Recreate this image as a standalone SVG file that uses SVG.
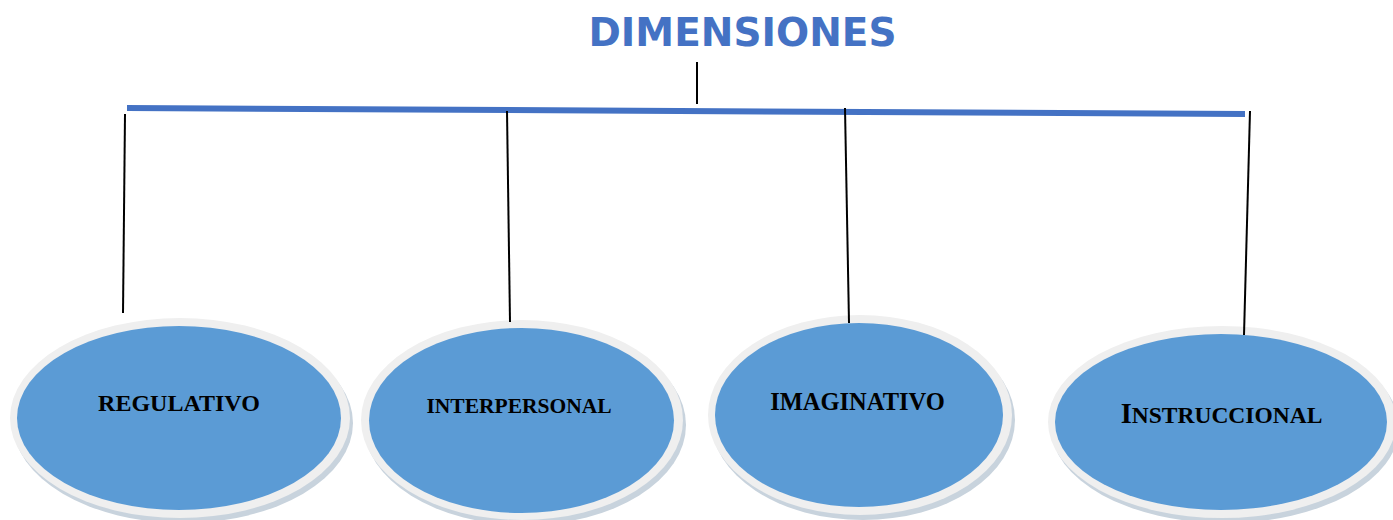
<svg xmlns="http://www.w3.org/2000/svg" width="1393" height="520" viewBox="0 0 1393 520">
  <style>
    .shadow { fill: #c8d3dd; }
    .rim { fill: #efefef; }
    .core { fill: #5b9bd5; }
    .lbl { font-family: "Liberation Serif", "Times New Roman", serif; font-weight: bold; fill: #000; text-anchor: middle; }
    .title { font-family: "DejaVu Sans", sans-serif; font-weight: bold; fill: #4472c4; text-anchor: middle; font-size: 39px; }
    .conn { stroke: #000; stroke-width: 2; fill: none; }
    .bar { stroke: #4472c4; stroke-width: 6; fill: none; }
  </style>
  <rect width="1393" height="520" fill="#ffffff"/>

  <g id="title">
    <text class="title" x="742.5" y="46">DIMENSIONES</text>
  </g>

  <g id="node-regulativo">
    <ellipse class="shadow" cx="183" cy="423" rx="170" ry="100"/>
    <ellipse class="rim" cx="180" cy="418" rx="170" ry="100"/>
    <ellipse class="core" cx="179" cy="418" rx="162" ry="92"/>
    <text class="lbl" x="179" y="411" font-size="24">REGULATIVO</text>
  </g>

  <g id="node-interpersonal">
    <ellipse class="shadow" cx="525" cy="425" rx="161" ry="100"/>
    <ellipse class="rim" cx="522" cy="420" rx="161" ry="100"/>
    <ellipse class="core" cx="521.5" cy="420.5" rx="152.5" ry="92.5"/>
    <text class="lbl" x="519" y="413" font-size="21.5">INTERPERSONAL</text>
  </g>

  <g id="node-imaginativo">
    <ellipse class="shadow" cx="863" cy="420" rx="152" ry="100"/>
    <ellipse class="rim" cx="860" cy="415" rx="152" ry="100"/>
    <ellipse class="core" cx="859" cy="415" rx="144" ry="92"/>
    <text class="lbl" x="857.5" y="410" font-size="24.5">IMAGINATIVO</text>
  </g>

  <g id="node-instruccional">
    <ellipse class="shadow" cx="1225" cy="427" rx="174" ry="96"/>
    <ellipse class="rim" cx="1222" cy="422" rx="174" ry="96"/>
    <ellipse class="core" cx="1221" cy="422" rx="166" ry="88"/>
    <text class="lbl" x="1221.5" y="423" font-size="23.5"><tspan font-size="28.5">I</tspan>NSTRUCCIONAL</text>
  </g>

  <g id="connectors">
    <line class="conn" x1="697" y1="62" x2="697" y2="104"/>
    <line class="bar" x1="127" y1="108" x2="1245" y2="114"/>
    <line class="conn" x1="125" y1="114" x2="123" y2="313"/>
    <line class="conn" x1="507" y1="111" x2="510" y2="322"/>
    <line class="conn" x1="845" y1="108" x2="849" y2="323"/>
    <line class="conn" x1="1250" y1="111" x2="1244" y2="335"/>
  </g>
</svg>
